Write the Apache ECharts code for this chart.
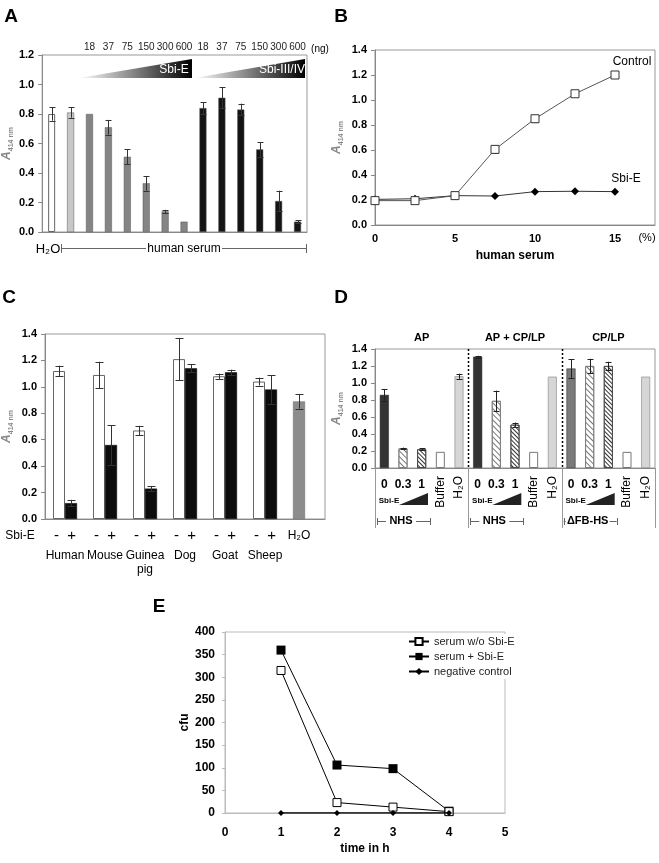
<!DOCTYPE html>
<html><head><meta charset="utf-8">
<script src="https://cdn.jsdelivr.net/npm/echarts@6/dist/echarts.min.js"></script>
<style>html,body{margin:0;padding:0;background:#fff}#c{width:659px;height:863px}</style>
</head><body><div id="c"></div>
<script>
// ---------------- DATA ----------------
// Panel A
const aTreatment = ['H₂O','serum','Sbi-E','Sbi-E','Sbi-E','Sbi-E','Sbi-E','Sbi-E','Sbi-III/IV','Sbi-III/IV','Sbi-III/IV','Sbi-III/IV','Sbi-III/IV','Sbi-III/IV'];
const aDose = ['', '', '18','37','75','150','300','600','18','37','75','150','300','600'];
const aValues = [0.80,0.81,0.80,0.71,0.51,0.33,0.14,0.07,0.84,0.91,0.83,0.56,0.21,0.07];
const aErrors = [0.045,0.035,0,0.05,0.05,0.05,0.01,0,0.04,0.07,0.04,0.05,0.07,0.01];
// Panel B
const bSerum = [0,2.5,5,7.5,10,12.5,15];
const bControl = [0.195,0.195,0.235,0.605,0.85,1.05,1.20];
const bControlErr = [0.01,0.01,0.01,0.03,0.025,0.015,0.02];
const bSbiE = [0.205,0.21,0.235,0.232,0.267,0.27,0.267];
// Panel C
const cSpecies = ['Human','Mouse','Guinea\npig','Dog','Goat','Sheep','H₂O'];
const cMinus = [1.12,1.09,0.67,1.21,1.08,1.04,0.89];
const cMinusErr = [0.04,0.10,0.035,0.16,0.02,0.03,0.055];
const cPlus = [0.12,0.56,0.23,1.14,1.11,0.98,null];
const cPlusErr = [0.025,0.15,0.02,0.03,0.02,0.11,null];
// Panel D
const dGroups = ['AP','AP + CP/LP','CP/LP'];
const dSerum = ['NHS','NHS','ΔFB-HS'];
const dConditions = ['0','0.3','1','Buffer','H₂O'];
const dValues = [[0.86,0.23,0.22,0.19,1.08],[1.31,0.79,0.51,0.19,1.075],[1.17,1.20,1.20,0.19,1.075]];
const dErrors = [[0.07,0.01,0.01,0,0.03],[0.01,0.12,0.025,0,0],[0.11,0.085,0.05,0,0]];
// Panel E
const eTime = [1,2,3,4];
const eSerum = [315,23,13,3];
const eSerumSbiE = [360,106,98,4];
const eNegative = [0,0,0,0];

// ---------------- LAYOUT / STYLE ----------------
const F = '"Liberation Sans", Arial, Helvetica, sans-serif';
const GA = {left:42, top:55, width:265, height:177};
const GB = {left:375, top:50, width:280, height:175};
const GC = {left:43, top:334, width:282, height:185};
const GD = {left:375, top:349, width:280, height:119};
const GE = {left:225, top:632, width:280, height:181};
const frame = {show:true, borderColor:'#999', borderWidth:1, backgroundColor:'transparent'};

const chart = echarts.init(document.getElementById('c'), null, {renderer:'canvas'});

function errorBars(color, cap) {
  return function (params, api) {
    const e = api.value(2);
    if (!(e > 0)) return null;
    const x0 = api.value(0), v = api.value(1), off = api.value(3) || 0;
    const p1 = api.coord([x0, v + e]), p2 = api.coord([x0, v - e]);
    const x = Math.round(p1[0] + off) + 0.5;
    const st = {stroke: color, lineWidth: 1};
    return {type:'group', children:[
      {type:'line', shape:{x1:x, y1:p1[1], x2:x, y2:p2[1]}, style:st},
      {type:'line', shape:{x1:x-cap, y1:Math.round(p1[1])+0.5, x2:x+cap, y2:Math.round(p1[1])+0.5}, style:st},
      {type:'line', shape:{x1:x-cap, y1:Math.round(p2[1])+0.5, x2:x+cap, y2:Math.round(p2[1])+0.5}, style:st}
    ]};
  };
}

const yLab = {fontSize:11, fontWeight:'bold', color:'#000', fontFamily:F, formatter: v => v.toFixed(1)};
const axLine = {show:true, lineStyle:{color:'#888', width:1}};
const yName = {
  name:'{a|A}{b|414 nm}', nameLocation:'middle', nameRotate:90,
  nameTextStyle:{rich:{a:{fontSize:12, fontWeight:'bold', fontStyle:'italic', fontFamily:F, verticalAlign:'bottom', padding:[0,0,2,0]}, b:{fontSize:7, fontWeight:'bold', fontFamily:F, verticalAlign:'bottom'}}}
};

// ---------------- GRAPHICS (annotations) ----------------
const G = [];
function txt(x, y, text, size, weight, extra) {
  G.push(Object.assign({type:'text', x, y, silent:true, z:100,
    style:Object.assign({text, fill:'#000', font:(weight||'normal')+' '+size+'px '+F,
      align:'center', verticalAlign:'middle', textAlign:'center', textVerticalAlign:'middle'}, (extra&&extra.style)||{})},
    extra && extra.rotation ? {rotation: extra.rotation} : {}));
}
function ln(x1, y1, x2, y2, stroke, dash, w) {
  G.push({type:'line', silent:true, z:100, shape:{x1, y1, x2, y2}, style:{stroke:stroke||'#666', lineWidth:w||1, lineDash:dash||null}});
}
function poly(points, fill) {
  G.push({type:'polygon', silent:true, z:100, shape:{points}, style:{fill}});
}
// panel letters
txt(11, 17, 'A', 19, 'bold'); txt(341, 17, 'B', 19, 'bold');
txt(9, 298, 'C', 19, 'bold'); txt(341, 298, 'D', 19, 'bold');
txt(159, 607, 'E', 19, 'bold');
// Panel A annotations
const grad = {type:'linear', x:0, y:0, x2:1, y2:0, colorStops:[{offset:0, color:'#ffffff'},{offset:1, color:'#000000'}]};
poly([[79,78],[192,59],[192,78]], grad);
poly([[194,78],[305,59],[305,78]], grad);
txt(174, 70, 'Sbi-E', 12, 'normal', {style:{fill:'#fff'}});
txt(282, 70, 'Sbi-III/IV', 12, 'normal', {style:{fill:'#fff'}});
txt(320, 49, '(ng)', 10, 'normal');
txt(48, 249, 'H₂O', 13, 'normal');
txt(184, 249, 'human serum', 12, 'normal');
ln(61.5, 248.5, 146, 248.5, '#666'); ln(222, 248.5, 306.5, 248.5, '#666');
ln(61.5, 244, 61.5, 253, '#666'); ln(306.5, 244, 306.5, 253, '#666');
// Panel B annotations
txt(632, 62, 'Control', 12, 'normal');
txt(626, 179, 'Sbi-E', 12, 'normal');
txt(647, 238, '(%)', 11, 'normal');
// Panel C annotations
txt(20, 536, 'Sbi-E', 12, 'normal');
// Panel D annotations
const gw = GD.width / 3;
for (let g = 0; g < 3; g++) {
  const gs = GD.left + g * gw;
  if (g > 0) {
    ln(Math.round(gs)+0.5, GD.top, Math.round(gs)+0.5, GD.top + GD.height, '#000', [2,2], 1.5);
    ln(Math.round(gs)+0.5, GD.top + GD.height, Math.round(gs)+0.5, 528, '#999');
  }
  poly([[gs+24,505],[gs+53,505],[gs+53,493]], '#222');
  txt(gs+14, 501, 'Sbi-E', 8, 'bold');
  const half = dSerum[g].length > 3 ? 22 : 15;
  const mid = gs + 26;
  ln(gs+2, 521.5, mid-half, 521.5, '#666'); ln(mid+half, 521.5, gs+55, 521.5, '#666');
  ln(Math.round(gs+2)+0.5, 518, Math.round(gs+2)+0.5, 525, '#666');
  ln(Math.round(gs+55)+0.5, 518, Math.round(gs+55)+0.5, 525, '#666');
  txt(mid, 521, dSerum[g], 11, 'bold');
}
ln(GD.left+0.5, GD.top+GD.height, GD.left+0.5, 528, '#999');
ln(GD.left+GD.width+0.5, GD.top+GD.height, GD.left+GD.width+0.5, 528, '#999');

// ---------------- SERIES DATA BUILD ----------------
const aColors = {'H₂O':'#ffffff', 'serum':'#c8c8c8', 'Sbi-E':'#858585', 'Sbi-III/IV':'#141414'};
const aCats = aTreatment.map((t, i) => t + ' ' + aDose[i] + '#' + i);
const aBarData = aValues.map((v, i) => ({value:v, itemStyle:{color:aColors[aTreatment[i]], borderColor:aTreatment[i]==='H₂O' ? '#666' : '#555', borderWidth:aTreatment[i]==='H₂O' ? 1 : 0.5}}));
const aErrData = aValues.map((v, i) => [i, v, aErrors[i], 0]);

const bCtrlData = bSerum.map((x, i) => [x, bControl[i]]);
const bSbiData = bSerum.map((x, i) => [x, bSbiE[i]]);
const bErrData = bSerum.map((x, i) => [x, bControl[i], bControlErr[i], 0]);

const CBW = 12;
const cMinusData = cMinus.map((v, i) => ({value:v, itemStyle: cSpecies[i]==='H₂O' ? {color:'#8c8c8c', borderColor:'#666', borderWidth:0.5} : {color:'#fff', borderColor:'#666', borderWidth:1}}));
const cPlusData = cPlus.map(v => v == null ? '-' : v);
const cErrData = [];
cMinus.forEach((v, i) => cErrData.push([i, v, cMinusErr[i], -CBW/2]));
cPlus.forEach((v, i) => { if (v != null) cErrData.push([i, v, cPlusErr[i], CBW/2]); });

const dCats = [], dBarData = [], dErrData = [];
function dStyle(g, c) {
  const cond = dConditions[c];
  if (cond === '0') return {color: g === 2 ? '#7a7a7a' : '#333', borderColor:'#222', borderWidth:0.5};
  if (cond === '0.3') return {color:'#fff', borderColor:'#777', borderWidth:0.8, decal:{symbol:'rect', symbolSize:1, dashArrayX:[1,0], dashArrayY:[1,2.5], rotation:Math.PI/4, color:'#777'}};
  if (cond === '1') return {color:'#fff', borderColor:'#444', borderWidth:0.8, decal:{symbol:'rect', symbolSize:1, dashArrayX:[1,0], dashArrayY:[1,1.3], rotation:Math.PI/4, color:'#333'}};
  if (cond === 'Buffer') return {color:'#fff', borderColor:'#777', borderWidth:1};
  return {color:'#d6d6d6', borderColor:'#999', borderWidth:0.8};
}
dGroups.forEach((grp, g) => dConditions.forEach((cond, c) => {
  const idx = dCats.length;
  dCats.push(grp + ' | ' + cond);
  dBarData.push({value:dValues[g][c], itemStyle:dStyle(g, c)});
  dErrData.push([idx, dValues[g][c], dErrors[g][c], 0]);
}));

const ePairs = arr => eTime.map((t, i) => [t, arr[i]]);

// ---------------- OPTION ----------------
const option = {
  animation:false,
  textStyle:{fontFamily:F},
  grid:[Object.assign({}, GA, frame), Object.assign({}, GB, frame), Object.assign({}, GC, frame), Object.assign({}, GD, frame), Object.assign({}, GE, frame, {borderColor:'#bbb'})],
  xAxis:[
    {gridIndex:0, type:'category', data:aCats, axisLine:axLine, axisTick:{show:false}, axisLabel:{show:false}},
    {gridIndex:0, type:'category', position:'top', data:aCats, axisLine:{show:false}, axisTick:{show:false},
      axisLabel:{interval:0, margin:3, fontSize:10, color:'#222', formatter:(v, i) => aDose[i]}},
    {gridIndex:1, type:'value', min:0, max:17.5, interval:5, axisLine:axLine, axisTick:{show:false}, splitLine:{show:false},
      axisLabel:{fontSize:11, fontWeight:'bold', color:'#000', margin:8, showMaxLabel:false, formatter:v => (v % 5 === 0 ? String(v) : '')},
      name:'human serum', nameLocation:'middle', nameGap:25, nameTextStyle:{fontSize:12, fontWeight:'bold', color:'#000'}},
    {gridIndex:2, type:'category', data:cSpecies, axisLine:axLine, axisTick:{show:false},
      axisLabel:{interval:0, margin:4, color:'#000',
        formatter:(v, i) => v === 'H₂O' ? '{h|H₂O}' : '{s|-  +}\n' + v.split('\n').map(t => '{n|' + t + '}').join('\n'),
        rich:{s:{fontSize:15, lineHeight:26, color:'#000', fontFamily:F}, n:{fontSize:12, lineHeight:14, color:'#000', fontFamily:F}, h:{fontSize:12, lineHeight:26, color:'#000', fontFamily:F, padding:[0,12,0,0]}}}},
    {gridIndex:3, type:'category', data:dCats, axisLine:axLine, axisTick:{show:false},
      axisLabel:{interval:0, margin:11, fontSize:12, fontWeight:'bold', color:'#000', formatter:(v, i) => { const c = dConditions[i % 5]; return (c === 'Buffer' || c === 'H₂O') ? '' : c; }}},
    {gridIndex:3, type:'category', data:dCats, position:'bottom', offset:0, axisLine:{show:false}, axisTick:{show:false},
      axisLabel:{interval:0, margin:8, rotate:90, fontSize:12, color:'#000', formatter:(v, i) => { const c = dConditions[i % 5]; return (c === 'Buffer' || c === 'H₂O') ? c : ''; }}},
    {gridIndex:3, type:'category', data:dCats, position:'top', axisLine:{show:false}, axisTick:{show:false},
      axisLabel:{interval:0, margin:6, fontSize:11, fontWeight:'bold', color:'#000', formatter:(v, i) => (i % 5 === 2 ? dGroups[Math.floor(i / 5)] : '')}},
    {gridIndex:4, type:'value', min:0, max:5, interval:1, axisLine:{show:true, lineStyle:{color:'#bbb'}}, axisTick:{show:false}, splitLine:{show:false},
      axisLabel:{fontSize:12, fontWeight:'bold', color:'#000', margin:14},
      name:'time in h', nameLocation:'middle', nameGap:30, nameTextStyle:{fontSize:12, fontWeight:'bold', color:'#000'}}
  ],
  yAxis:[
    Object.assign({gridIndex:0, type:'value', min:0, max:1.2, interval:0.2, axisLine:axLine, axisTick:{show:true, length:4, lineStyle:{color:'#888'}}, splitLine:{show:false}, axisLabel:Object.assign({margin:8}, yLab), nameGap:27}, yName),
    Object.assign({gridIndex:1, type:'value', min:0, max:1.4, interval:0.2, axisLine:axLine, axisTick:{show:true, length:4, lineStyle:{color:'#888'}}, splitLine:{show:false}, axisLabel:Object.assign({margin:8}, yLab), nameGap:30}, yName),
    Object.assign({gridIndex:2, type:'value', min:0, max:1.4, interval:0.2, axisLine:axLine, axisTick:{show:true, length:4, lineStyle:{color:'#888'}}, splitLine:{show:false}, axisLabel:Object.assign({margin:8}, yLab), nameGap:30}, yName),
    Object.assign({gridIndex:3, type:'value', min:0, max:1.4, interval:0.2, axisLine:axLine, axisTick:{show:true, length:4, lineStyle:{color:'#888'}}, splitLine:{show:false}, axisLabel:Object.assign({margin:8}, yLab), nameGap:30}, yName),
    {gridIndex:4, type:'value', min:0, max:400, interval:50, axisLine:{show:true, lineStyle:{color:'#bbb'}}, axisTick:{show:true, length:3, lineStyle:{color:'#bbb'}}, splitLine:{show:false},
      axisLabel:{fontSize:12, fontWeight:'bold', color:'#000', margin:10},
      name:'cfu', nameLocation:'middle', nameRotate:90, nameGap:33, nameTextStyle:{fontSize:12, fontWeight:'bold', color:'#000'}}
  ],
  legend:{left:405, top:634, orient:'vertical', itemGap:4, itemWidth:20, itemHeight:9, backgroundColor:'#fff', padding:[2,3,2,3],
    textStyle:{fontSize:11, color:'#222', fontFamily:F},
    data:['serum w/o Sbi-E', 'serum + Sbi-E', 'negative control']},
  series:[
    {type:'bar', xAxisIndex:0, yAxisIndex:0, data:aBarData, barWidth:7},
    {type:'custom', xAxisIndex:0, yAxisIndex:0, data:aErrData, renderItem:errorBars('#333', 3), encode:{x:0, y:1}, z:5},

    {type:'line', name:'B Sbi-E', xAxisIndex:2, yAxisIndex:1, data:bSbiData, symbol:'diamond', symbolSize:8,
      itemStyle:{color:'#000'}, lineStyle:{color:'#333', width:1}},
    {type:'custom', xAxisIndex:2, yAxisIndex:1, data:bErrData, renderItem:errorBars('#444', 3), encode:{x:0, y:1}, z:3},
    {type:'line', name:'B Control', xAxisIndex:2, yAxisIndex:1, data:bCtrlData, symbol:'rect', symbolSize:8,
      itemStyle:{color:'#fff', borderColor:'#333', borderWidth:1}, lineStyle:{color:'#555', width:1}, z:4},

    {type:'bar', xAxisIndex:3, yAxisIndex:2, data:cMinusData, barWidth:CBW, barGap:'0%'},
    {type:'bar', xAxisIndex:3, yAxisIndex:2, data:cPlusData, barWidth:CBW, barGap:'0%', itemStyle:{color:'#0c0c0c', borderColor:'#000', borderWidth:0.5}},
    {type:'custom', xAxisIndex:3, yAxisIndex:2, data:cErrData, renderItem:errorBars('#333', 4), encode:{x:0, y:1}, z:5},

    {type:'bar', xAxisIndex:4, yAxisIndex:3, data:dBarData, barWidth:9},
    {type:'custom', xAxisIndex:4, yAxisIndex:3, data:dErrData, renderItem:errorBars('#222', 3), encode:{x:0, y:1}, z:5},

    {type:'line', name:'serum w/o Sbi-E', xAxisIndex:7, yAxisIndex:4, data:ePairs(eSerum), symbol:'rect', symbolSize:8,
      itemStyle:{color:'#fff', borderColor:'#000', borderWidth:1}, lineStyle:{color:'#000', width:1}, z:4},
    {type:'line', name:'serum + Sbi-E', xAxisIndex:7, yAxisIndex:4, data:ePairs(eSerumSbiE), symbol:'rect', symbolSize:9,
      itemStyle:{color:'#000'}, lineStyle:{color:'#000', width:1}, z:3},
    {type:'line', name:'negative control', xAxisIndex:7, yAxisIndex:4, data:ePairs(eNegative), symbol:'diamond', symbolSize:6,
      itemStyle:{color:'#000'}, lineStyle:{color:'#000', width:1.5}, z:5}
  ],
  graphic:G
};
chart.setOption(option);
</script></body></html>
